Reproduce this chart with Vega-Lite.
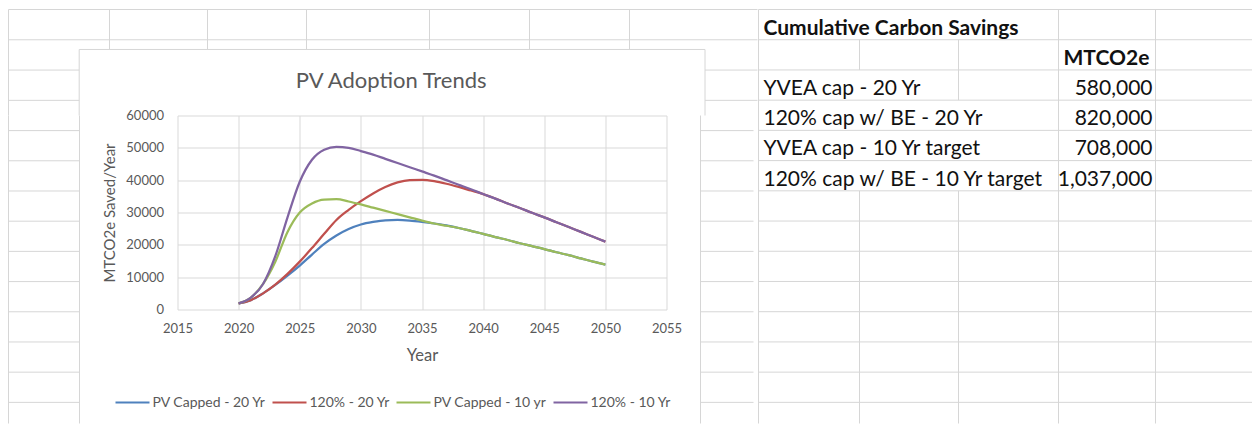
{
  "$schema": "https://vega.github.io/schema/vega-lite/v6.json",
  "autosize": {"type": "pad"},
  "padding": {"left": 7.5, "top": 8.5, "right": 0, "bottom": 0},
  "background": "white",
  "config": {
    "font": "Lato",
    "view": {"stroke": null}
  },
  "datasets": {
    "trends": [
      {"series": "PV Capped - 20 Yr", "year": 2020, "value": 1900},
      {"series": "PV Capped - 20 Yr", "year": 2021, "value": 2900},
      {"series": "PV Capped - 20 Yr", "year": 2022, "value": 5000},
      {"series": "PV Capped - 20 Yr", "year": 2023, "value": 7600},
      {"series": "PV Capped - 20 Yr", "year": 2024, "value": 10500},
      {"series": "PV Capped - 20 Yr", "year": 2025, "value": 13600},
      {"series": "PV Capped - 20 Yr", "year": 2026, "value": 17000},
      {"series": "PV Capped - 20 Yr", "year": 2027, "value": 20300},
      {"series": "PV Capped - 20 Yr", "year": 2028, "value": 22900},
      {"series": "PV Capped - 20 Yr", "year": 2029, "value": 24900},
      {"series": "PV Capped - 20 Yr", "year": 2030, "value": 26300},
      {"series": "PV Capped - 20 Yr", "year": 2031, "value": 27100},
      {"series": "PV Capped - 20 Yr", "year": 2032, "value": 27600},
      {"series": "PV Capped - 20 Yr", "year": 2033, "value": 27700},
      {"series": "PV Capped - 20 Yr", "year": 2034, "value": 27500},
      {"series": "PV Capped - 20 Yr", "year": 2035, "value": 27100},
      {"series": "PV Capped - 20 Yr", "year": 2036, "value": 26600},
      {"series": "PV Capped - 20 Yr", "year": 2037, "value": 26000},
      {"series": "PV Capped - 20 Yr", "year": 2038, "value": 25200},
      {"series": "PV Capped - 20 Yr", "year": 2039, "value": 24300},
      {"series": "PV Capped - 20 Yr", "year": 2040, "value": 23400},
      {"series": "PV Capped - 20 Yr", "year": 2041, "value": 22400},
      {"series": "PV Capped - 20 Yr", "year": 2042, "value": 21500},
      {"series": "PV Capped - 20 Yr", "year": 2043, "value": 20500},
      {"series": "PV Capped - 20 Yr", "year": 2044, "value": 19600},
      {"series": "PV Capped - 20 Yr", "year": 2045, "value": 18700},
      {"series": "PV Capped - 20 Yr", "year": 2046, "value": 17700},
      {"series": "PV Capped - 20 Yr", "year": 2047, "value": 16800},
      {"series": "PV Capped - 20 Yr", "year": 2048, "value": 15800},
      {"series": "PV Capped - 20 Yr", "year": 2049, "value": 14800},
      {"series": "PV Capped - 20 Yr", "year": 2050, "value": 13900},
      {"series": "120% - 20 Yr", "year": 2020, "value": 1900},
      {"series": "120% - 20 Yr", "year": 2021, "value": 2900},
      {"series": "120% - 20 Yr", "year": 2022, "value": 5000},
      {"series": "120% - 20 Yr", "year": 2023, "value": 7700},
      {"series": "120% - 20 Yr", "year": 2024, "value": 11000},
      {"series": "120% - 20 Yr", "year": 2025, "value": 14800},
      {"series": "120% - 20 Yr", "year": 2026, "value": 19000},
      {"series": "120% - 20 Yr", "year": 2027, "value": 23400},
      {"series": "120% - 20 Yr", "year": 2028, "value": 27700},
      {"series": "120% - 20 Yr", "year": 2029, "value": 30800},
      {"series": "120% - 20 Yr", "year": 2030, "value": 33500},
      {"series": "120% - 20 Yr", "year": 2031, "value": 35900},
      {"series": "120% - 20 Yr", "year": 2032, "value": 37900},
      {"series": "120% - 20 Yr", "year": 2033, "value": 39300},
      {"series": "120% - 20 Yr", "year": 2034, "value": 40000},
      {"series": "120% - 20 Yr", "year": 2035, "value": 40100},
      {"series": "120% - 20 Yr", "year": 2036, "value": 39700},
      {"series": "120% - 20 Yr", "year": 2037, "value": 38900},
      {"series": "120% - 20 Yr", "year": 2038, "value": 37900},
      {"series": "120% - 20 Yr", "year": 2039, "value": 36800},
      {"series": "120% - 20 Yr", "year": 2040, "value": 35700},
      {"series": "120% - 20 Yr", "year": 2041, "value": 34300},
      {"series": "120% - 20 Yr", "year": 2042, "value": 32800},
      {"series": "120% - 20 Yr", "year": 2043, "value": 31400},
      {"series": "120% - 20 Yr", "year": 2044, "value": 29900},
      {"series": "120% - 20 Yr", "year": 2045, "value": 28500},
      {"series": "120% - 20 Yr", "year": 2046, "value": 27000},
      {"series": "120% - 20 Yr", "year": 2047, "value": 25500},
      {"series": "120% - 20 Yr", "year": 2048, "value": 24000},
      {"series": "120% - 20 Yr", "year": 2049, "value": 22500},
      {"series": "120% - 20 Yr", "year": 2050, "value": 21000},
      {"series": "PV Capped - 10 yr", "year": 2020, "value": 1900},
      {"series": "PV Capped - 10 yr", "year": 2021, "value": 3700},
      {"series": "PV Capped - 10 yr", "year": 2022, "value": 7900},
      {"series": "PV Capped - 10 yr", "year": 2023, "value": 14800},
      {"series": "PV Capped - 10 yr", "year": 2024, "value": 24000},
      {"series": "PV Capped - 10 yr", "year": 2025, "value": 30000},
      {"series": "PV Capped - 10 yr", "year": 2026, "value": 32800},
      {"series": "PV Capped - 10 yr", "year": 2027, "value": 34000},
      {"series": "PV Capped - 10 yr", "year": 2028, "value": 34100},
      {"series": "PV Capped - 10 yr", "year": 2029, "value": 33400},
      {"series": "PV Capped - 10 yr", "year": 2030, "value": 32500},
      {"series": "PV Capped - 10 yr", "year": 2031, "value": 31500},
      {"series": "PV Capped - 10 yr", "year": 2032, "value": 30500},
      {"series": "PV Capped - 10 yr", "year": 2033, "value": 29500},
      {"series": "PV Capped - 10 yr", "year": 2034, "value": 28500},
      {"series": "PV Capped - 10 yr", "year": 2035, "value": 27500},
      {"series": "PV Capped - 10 yr", "year": 2036, "value": 26600},
      {"series": "PV Capped - 10 yr", "year": 2037, "value": 25900},
      {"series": "PV Capped - 10 yr", "year": 2038, "value": 25200},
      {"series": "PV Capped - 10 yr", "year": 2039, "value": 24300},
      {"series": "PV Capped - 10 yr", "year": 2040, "value": 23400},
      {"series": "PV Capped - 10 yr", "year": 2041, "value": 22400},
      {"series": "PV Capped - 10 yr", "year": 2042, "value": 21500},
      {"series": "PV Capped - 10 yr", "year": 2043, "value": 20500},
      {"series": "PV Capped - 10 yr", "year": 2044, "value": 19600},
      {"series": "PV Capped - 10 yr", "year": 2045, "value": 18700},
      {"series": "PV Capped - 10 yr", "year": 2046, "value": 17700},
      {"series": "PV Capped - 10 yr", "year": 2047, "value": 16800},
      {"series": "PV Capped - 10 yr", "year": 2048, "value": 15800},
      {"series": "PV Capped - 10 yr", "year": 2049, "value": 14800},
      {"series": "PV Capped - 10 yr", "year": 2050, "value": 13900},
      {"series": "120% - 10 Yr", "year": 2020, "value": 1900},
      {"series": "120% - 10 Yr", "year": 2021, "value": 3700},
      {"series": "120% - 10 Yr", "year": 2022, "value": 7900},
      {"series": "120% - 10 Yr", "year": 2023, "value": 16500},
      {"series": "120% - 10 Yr", "year": 2024, "value": 28500},
      {"series": "120% - 10 Yr", "year": 2025, "value": 39500},
      {"series": "120% - 10 Yr", "year": 2026, "value": 46300},
      {"series": "120% - 10 Yr", "year": 2027, "value": 49400},
      {"series": "120% - 10 Yr", "year": 2028, "value": 50300},
      {"series": "120% - 10 Yr", "year": 2029, "value": 50000},
      {"series": "120% - 10 Yr", "year": 2030, "value": 49000},
      {"series": "120% - 10 Yr", "year": 2031, "value": 47900},
      {"series": "120% - 10 Yr", "year": 2032, "value": 46600},
      {"series": "120% - 10 Yr", "year": 2033, "value": 45300},
      {"series": "120% - 10 Yr", "year": 2034, "value": 44000},
      {"series": "120% - 10 Yr", "year": 2035, "value": 42700},
      {"series": "120% - 10 Yr", "year": 2036, "value": 41400},
      {"series": "120% - 10 Yr", "year": 2037, "value": 40000},
      {"series": "120% - 10 Yr", "year": 2038, "value": 38600},
      {"series": "120% - 10 Yr", "year": 2039, "value": 37200},
      {"series": "120% - 10 Yr", "year": 2040, "value": 35700},
      {"series": "120% - 10 Yr", "year": 2041, "value": 34300},
      {"series": "120% - 10 Yr", "year": 2042, "value": 32800},
      {"series": "120% - 10 Yr", "year": 2043, "value": 31400},
      {"series": "120% - 10 Yr", "year": 2044, "value": 29900},
      {"series": "120% - 10 Yr", "year": 2045, "value": 28500},
      {"series": "120% - 10 Yr", "year": 2046, "value": 27000},
      {"series": "120% - 10 Yr", "year": 2047, "value": 25500},
      {"series": "120% - 10 Yr", "year": 2048, "value": 24000},
      {"series": "120% - 10 Yr", "year": 2049, "value": 22500},
      {"series": "120% - 10 Yr", "year": 2050, "value": 21000}
    ],
    "stripLines": [
      {"c1": 0, "c2": 7, "r1": 0, "r2": 0},
      {"c1": 0, "c2": 7, "r1": 1, "r2": 1},
      {"c1": 0, "c2": 0.7, "r1": 2, "r2": 2},
      {"c1": 0, "c2": 0.7, "r1": 3, "r2": 3},
      {"c1": 6.59, "c2": 7, "r1": 2, "r2": 2},
      {"c1": 6.59, "c2": 7, "r1": 3, "r2": 3},
      {"c1": 0.7, "c2": 6.59, "r1": 1.32, "r2": 1.32},
      {"c1": 0, "c2": 0, "r1": 0, "r2": 3.5},
      {"c1": 1, "c2": 1, "r1": 0, "r2": 1.32},
      {"c1": 2, "c2": 2, "r1": 0, "r2": 1.32},
      {"c1": 3, "c2": 3, "r1": 0, "r2": 1.32},
      {"c1": 4, "c2": 4, "r1": 0, "r2": 1.32},
      {"c1": 5, "c2": 5, "r1": 0, "r2": 1.32},
      {"c1": 6, "c2": 6, "r1": 0, "r2": 1.32},
      {"c1": 0.7, "c2": 0.7, "r1": 1.32, "r2": 3.5},
      {"c1": 6.59, "c2": 6.59, "r1": 1.32, "r2": 3.5}
    ],
    "leftLines": [
      {"c1": 0, "c2": 0.7, "r1": 4, "r2": 4},
      {"c1": 0, "c2": 0.7, "r1": 5, "r2": 5},
      {"c1": 0, "c2": 0.7, "r1": 6, "r2": 6},
      {"c1": 0, "c2": 0.7, "r1": 7, "r2": 7},
      {"c1": 0, "c2": 0.7, "r1": 8, "r2": 8},
      {"c1": 0, "c2": 0.7, "r1": 9, "r2": 9},
      {"c1": 0, "c2": 0.7, "r1": 10, "r2": 10},
      {"c1": 0, "c2": 0.7, "r1": 11, "r2": 11},
      {"c1": 0, "c2": 0.7, "r1": 12, "r2": 12},
      {"c1": 0, "c2": 0.7, "r1": 13, "r2": 13},
      {"c1": 0, "c2": 0, "r1": 3.5, "r2": 13.7},
      {"c1": 0.7, "c2": 0.7, "r1": 3.5, "r2": 13.7}
    ],
    "rightLines": [
      {"c1": 6.59, "c2": 7, "r1": 4, "r2": 4},
      {"c1": 6.59, "c2": 7, "r1": 5, "r2": 5},
      {"c1": 6.59, "c2": 7, "r1": 6, "r2": 6},
      {"c1": 6.59, "c2": 7, "r1": 7, "r2": 7},
      {"c1": 6.59, "c2": 7, "r1": 8, "r2": 8},
      {"c1": 6.59, "c2": 7, "r1": 9, "r2": 9},
      {"c1": 6.59, "c2": 7, "r1": 10, "r2": 10},
      {"c1": 6.59, "c2": 7, "r1": 11, "r2": 11},
      {"c1": 6.59, "c2": 7, "r1": 12, "r2": 12},
      {"c1": 6.59, "c2": 7, "r1": 13, "r2": 13},
      {"c1": 6.59, "c2": 6.59, "r1": 3.5, "r2": 13.7}
    ],
    "tableLines": [
      {"c1": 7, "c2": 12, "r1": 0, "r2": 0},
      {"c1": 7, "c2": 12, "r1": 1, "r2": 1},
      {"c1": 7, "c2": 12, "r1": 2, "r2": 2},
      {"c1": 7, "c2": 12, "r1": 3, "r2": 3},
      {"c1": 7, "c2": 12, "r1": 4, "r2": 4},
      {"c1": 7, "c2": 12, "r1": 5, "r2": 5},
      {"c1": 7, "c2": 12, "r1": 6, "r2": 6},
      {"c1": 7, "c2": 12, "r1": 7, "r2": 7},
      {"c1": 7, "c2": 12, "r1": 8, "r2": 8},
      {"c1": 7, "c2": 12, "r1": 9, "r2": 9},
      {"c1": 7, "c2": 12, "r1": 10, "r2": 10},
      {"c1": 7, "c2": 12, "r1": 11, "r2": 11},
      {"c1": 7, "c2": 12, "r1": 12, "r2": 12},
      {"c1": 7, "c2": 12, "r1": 13, "r2": 13},
      {"c1": 7, "c2": 7, "r1": 0, "r2": 13.7},
      {"c1": 10, "c2": 10, "r1": 0, "r2": 13.7},
      {"c1": 11, "c2": 11, "r1": 0, "r2": 13.7},
      {"c1": 8, "c2": 8, "r1": 1, "r2": 2},
      {"c1": 8, "c2": 8, "r1": 6, "r2": 13.7},
      {"c1": 9, "c2": 9, "r1": 1, "r2": 3},
      {"c1": 9, "c2": 9, "r1": 6, "r2": 13.7}
    ],
    "headers": [
      {"r": 0, "c": 7, "text": "Cumulative Carbon Savings"},
      {"r": 1, "c": 10, "text": "MTCO2e"}
    ],
    "savings": [
      {"r": 2, "scenario": "YVEA cap - 20 Yr", "mtco2e": 580000},
      {"r": 3, "scenario": "120% cap w/ BE - 20 Yr", "mtco2e": 820000},
      {"r": 4, "scenario": "YVEA cap - 10 Yr target", "mtco2e": 708000},
      {"r": 5, "scenario": "120% cap w/ BE - 10 Yr target", "mtco2e": 1037000}
    ]
  },
  "spacing": -2,
  "resolve": {"scale": {"color": "independent"}, "legend": {"color": "independent"}},
  "hconcat": [
    {
      "bounds": "flush",
      "spacing": 0,
      "resolve": {"scale": {"color": "independent"}, "legend": {"color": "independent"}},
      "vconcat": [
        {
          "width": 749,
          "height": 106,
          "data": {"name": "stripLines"},
          "mark": {"type": "rule", "color": "#d6d6d6", "strokeWidth": 1},
          "encoding": {
            "x": {"field": "c1", "type": "quantitative", "axis": null,
                  "scale": {"domain": [0, 1, 2, 3, 4, 5, 6, 7], "range": [0, 101, 199, 298, 421, 521, 621, 749]}},
            "x2": {"field": "c2"},
            "y": {"field": "r1", "type": "quantitative", "axis": null,
                  "scale": {"domain": [0, 3.5], "reverse": true, "nice": false, "zero": false}},
            "y2": {"field": "r2"}
          }
        },
        {
          "spacing": 17,
          "resolve": {"scale": {"color": "independent"}, "legend": {"color": "independent"}},
          "hconcat": [
            {
              "width": 77,
              "height": 308,
              "data": {"name": "leftLines"},
              "mark": {"type": "rule", "color": "#d6d6d6", "strokeWidth": 1},
              "encoding": {
                "x": {"field": "c1", "type": "quantitative", "axis": null,
                      "scale": {"domain": [0, 0.7], "range": [0, 71], "nice": false, "zero": false}},
                "x2": {"field": "c2"},
                "y": {"field": "r1", "type": "quantitative", "axis": null,
                      "scale": {"domain": [3.5, 13.7], "reverse": true, "nice": false, "zero": false}},
                "y2": {"field": "r2"}
              }
            },
            {
              "width": 489,
              "height": 194,
              "title": {"text": "PV Adoption Trends", "fontSize": 22, "fontWeight": "normal", "color": "#595959", "frame": "bounds", "anchor": "middle", "offset": 17, "dx": -1},
              "data": {"name": "trends"},
              "mark": {"type": "line", "interpolate": "monotone", "strokeWidth": 2.25},
              "encoding": {
                "x": {
                  "field": "year", "type": "quantitative",
                  "scale": {"domain": [2015, 2055], "nice": false, "zero": false},
                  "axis": {
                    "title": "Year", "values": [2015, 2020, 2025, 2030, 2035, 2040, 2045, 2050, 2055], "format": "d",
                    "grid": true, "gridColor": "#d9d9d9", "domain": false, "ticks": false, "labelFlush": false,
                    "labelColor": "#595959", "labelFontSize": 13, "labelPadding": 13,
                    "titleColor": "#595959", "titleFontSize": 16.5, "titleFontWeight": "normal", "titlePadding": 12
                  }
                },
                "y": {
                  "field": "value", "type": "quantitative",
                  "scale": {"domain": [0, 60000], "nice": false},
                  "axis": {
                    "title": "MTCO2e Saved/Year", "values": [0, 10000, 20000, 30000, 40000, 50000, 60000], "format": "d",
                    "grid": true, "gridColor": "#d9d9d9", "domain": false, "ticks": false, "labelFlush": false,
                    "labelColor": "#595959", "labelFontSize": 13, "labelPadding": 14,
                    "titleColor": "#595959", "titleFontSize": 15, "titleFontWeight": "normal", "titlePadding": 8
                  }
                },
                "color": {
                  "field": "series", "type": "nominal",
                  "scale": {"domain": ["PV Capped - 20 Yr", "120% - 20 Yr", "PV Capped - 10 yr", "120% - 10 Yr"],
                            "range": ["#4F81BD", "#C0504D", "#9BBB59", "#8064A2"]},
                  "legend": {
                    "title": null, "orient": "none", "legendX": -63, "legendY": 269, "direction": "horizontal",
                    "symbolType": "stroke", "symbolSize": 1156, "symbolStrokeWidth": 2,
                    "labelFontSize": 14, "labelColor": "#595959", "labelOffset": 2, "columnPadding": 2, "padding": 0
                  }
                }
              }
            },
            {
              "width": 53,
              "height": 308,
              "data": {"name": "rightLines"},
              "mark": {"type": "rule", "color": "#d6d6d6", "strokeWidth": 1},
              "encoding": {
                "x": {"field": "c1", "type": "quantitative", "axis": null,
                      "scale": {"domain": [6.59, 7], "nice": false, "zero": false}},
                "x2": {"field": "c2"},
                "y": {"field": "r1", "type": "quantitative", "axis": null,
                      "scale": {"domain": [3.5, 13.7], "reverse": true, "nice": false, "zero": false}},
                "y2": {"field": "r2"}
              }
            }
          ]
        }
      ]
    },
    {
      "width": 495,
      "height": 414,
      "encoding": {
        "x": {"type": "quantitative", "axis": null,
              "scale": {"domain": [7, 8, 9, 10, 11, 12], "range": [0, 101, 200, 300, 397, 495]}},
        "y": {"type": "quantitative", "axis": null,
              "scale": {"domain": [0, 13.7], "reverse": true, "nice": false, "zero": false}}
      },
      "layer": [
        {
          "data": {"name": "tableLines"},
          "mark": {"type": "rule", "color": "#d6d6d6", "strokeWidth": 1},
          "encoding": {
            "x": {"field": "c1", "type": "quantitative"},
            "x2": {"field": "c2"},
            "y": {"field": "r1", "type": "quantitative"},
            "y2": {"field": "r2"}
          }
        },
        {
          "data": {"name": "headers"},
          "mark": {"type": "text", "align": "left", "baseline": "alphabetic", "dx": 5, "dy": 25, "fontSize": 21, "fontWeight": "bold", "color": "#111111"},
          "encoding": {
            "x": {"field": "c", "type": "quantitative"},
            "y": {"field": "r", "type": "quantitative"},
            "text": {"field": "text"}
          }
        },
        {
          "data": {"name": "savings"},
          "mark": {"type": "text", "align": "left", "baseline": "alphabetic", "dx": 5, "dy": 25, "fontSize": 21, "color": "#111111"},
          "encoding": {
            "x": {"datum": 7, "type": "quantitative"},
            "y": {"field": "r", "type": "quantitative"},
            "text": {"field": "scenario"}
          }
        },
        {
          "data": {"name": "savings"},
          "mark": {"type": "text", "align": "right", "baseline": "alphabetic", "dx": -3, "dy": 25, "fontSize": 21, "color": "#111111"},
          "encoding": {
            "x": {"datum": 11, "type": "quantitative"},
            "y": {"field": "r", "type": "quantitative"},
            "text": {"field": "mtco2e", "type": "quantitative", "format": ","}
          }
        }
      ]
    }
  ]
}
